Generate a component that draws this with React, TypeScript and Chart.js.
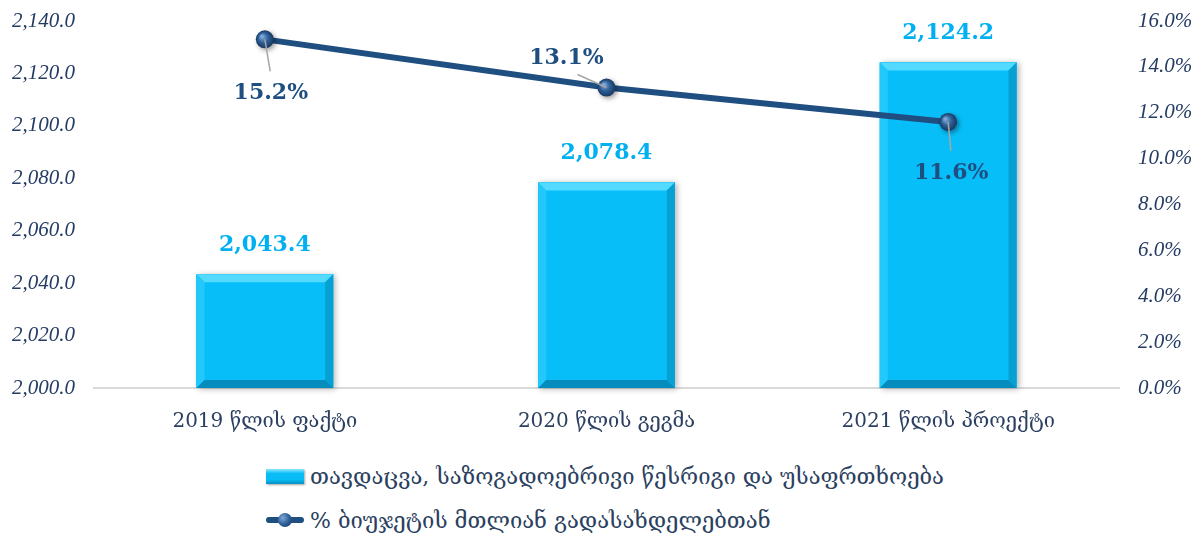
import React, { useEffect, useRef } from "react";
import { Chart, registerables } from "chart.js";

Chart.register(...registerables);

const categories = ["2019 წლის ფაქტი", "2020 წლის გეგმა", "2021 წლის პროექტი"];
const barValues = [2043.4, 2078.4, 2124.2];
const lineValues = [15.2, 13.1, 11.6];
const barLabel = "თავდაცვა, საზოგადოებრივი წესრიგი და უსაფრთხოება";
const lineLabel = "% ბიუჯეტის მთლიან გადასახდელებთან";
const leftTicks = { min: 2000, max: 2140, step: 20 };
const rightTicks = { min: 0, max: 16, step: 2 };

// label placement (style, not data)
const lineLabelOffsets = [
  { dx: 6, dy: 54 },
  { dx: -40, dy: -29 },
  { dx: 3, dy: 51 },
];

const BAR_COLOR = "#08BEF8";
const LINE_COLOR = "#1F4E80";
const TICK_COLOR = "#243B63";
const TEXT_COLOR = "#2B3F60";
const SERIF = "'DejaVu Serif', 'Liberation Serif', serif";
const ITALIC_SERIF = "'Liberation Serif', serif";

const fmtThousands = (v: number) =>
  v.toLocaleString("en-US", { minimumFractionDigits: 1, maximumFractionDigits: 1 });

const decorPlugin = {
  id: "decor",
  beforeDatasetDraw(chart: any, args: any) {
    if (args.index !== 0) return;
    const ctx = chart.ctx;
    const meta = chart.getDatasetMeta(0);
    const bottom = chart.chartArea.bottom;
    ctx.save();
    meta.data.forEach((el: any) => {
      const { x, y, base, width } = el.getProps(["x", "y", "base", "width"], true);
      const b = Math.min(base, bottom);
      ctx.shadowColor = "rgba(0,0,0,0.3)";
      ctx.shadowBlur = 6;
      ctx.shadowOffsetX = 2;
      ctx.shadowOffsetY = 1;
      ctx.fillStyle = BAR_COLOR;
      ctx.fillRect(x - width / 2, y, width, b - y);
    });
    ctx.restore();
  },
  afterDatasetDraw(chart: any, args: any) {
    const ctx = chart.ctx;
    if (args.index === 0) {
      const meta = chart.getDatasetMeta(0);
      const bottom = chart.chartArea.bottom;
      ctx.save();
      meta.data.forEach((el: any) => {
        const { x, y, base, width } = el.getProps(["x", "y", "base", "width"], true);
        const l = x - width / 2, r = x + width / 2, t = y, b = Math.min(base, bottom);
        const bv = 8;
        const poly = (pts: number[][], fill: any) => {
          ctx.beginPath();
          ctx.moveTo(pts[0][0], pts[0][1]);
          for (let i = 1; i < pts.length; i++) ctx.lineTo(pts[i][0], pts[i][1]);
          ctx.closePath();
          ctx.fillStyle = fill;
          ctx.fill();
        };
        ctx.fillStyle = BAR_COLOR;
        ctx.fillRect(l, t, r - l, b - t);
        poly([[l, t], [r, t], [r - bv, t + bv], [l + bv, t + bv]], "#55DAFF");
        poly([[l, t], [l + bv, t + bv], [l + bv, b - bv], [l, b]], "#22C8FA");
        poly([[r, t], [r, b], [r - bv, b - bv], [r - bv, t + bv]], "#07A0D2");
        poly([[l, b], [r, b], [r - bv, b - bv], [l + bv, b - bv]], "#068CBC");
      });
      ctx.restore();
    }
    if (args.index === 1) {
      const meta = chart.getDatasetMeta(1);
      ctx.save();
      meta.data.forEach((el: any) => {
        const { x, y } = el.getProps(["x", "y"], true);
        const rad = 9;
        ctx.shadowColor = "rgba(0,0,0,0.4)";
        ctx.shadowBlur = 5;
        ctx.shadowOffsetX = 2;
        ctx.shadowOffsetY = 2;
        const g = ctx.createRadialGradient(x - 3, y - 3, 1, x, y, rad);
        g.addColorStop(0, "#7FA6D6");
        g.addColorStop(0.5, "#2D5E96");
        g.addColorStop(1, "#17395F");
        ctx.beginPath();
        ctx.arc(x, y, rad, 0, Math.PI * 2);
        ctx.fillStyle = g;
        ctx.fill();
      });
      ctx.restore();
    }
  },
  afterDraw(chart: any) {
    const ctx = chart.ctx;
    ctx.save();
    const barMeta = chart.getDatasetMeta(0);
    ctx.font = `bold 22px ${SERIF}`;
    ctx.fillStyle = "#00B0F0";
    ctx.textAlign = "center";
    ctx.textBaseline = "bottom";
    barMeta.data.forEach((el: any, i: number) => {
      const { x, y } = el.getProps(["x", "y"], true);
      ctx.fillText(fmtThousands(barValues[i]), x, y - 18);
    });
    const lineMeta = chart.getDatasetMeta(1);
    ctx.textBaseline = "middle";
    lineMeta.data.forEach((el: any, i: number) => {
      const { x, y } = el.getProps(["x", "y"], true);
      const o = lineLabelOffsets[i];
      const lx = x + o.dx, ly = y + o.dy;
      ctx.strokeStyle = "#A6A6A6";
      ctx.lineWidth = 1.5;
      ctx.beginPath();
      ctx.moveTo(x, y);
      if (o.dy > 0) ctx.lineTo(x + o.dx * 0.9, ly - 22);
      else ctx.lineTo(x - 29, y - 13);
      ctx.stroke();
      ctx.font = `bold 22px ${SERIF}`;
      ctx.fillStyle = LINE_COLOR;
      ctx.fillText(lineValues[i].toFixed(1) + "%", lx, ly);
    });
    ctx.restore();
  },
};

export default function App() {
  const ref = useRef<HTMLCanvasElement | null>(null);
  useEffect(() => {
    if (!ref.current) return;
    const chart = new Chart(ref.current, {
      type: "bar",
      data: {
        labels: categories,
        datasets: [
          {
            type: "bar",
            label: barLabel,
            data: barValues,
            backgroundColor: BAR_COLOR,
            yAxisID: "y",
            order: 1,
            barPercentage: 0.4,
            categoryPercentage: 1,
          },
          {
            type: "line",
            label: lineLabel,
            data: lineValues,
            borderColor: LINE_COLOR,
            borderWidth: 6,
            pointRadius: 0,
            yAxisID: "y1",
            order: 0,
          } as any,
        ],
      },
      plugins: [decorPlugin],
      options: {
        animation: false,
        responsive: true,
        maintainAspectRatio: false,
        layout: { padding: { top: 0, left: 0, right: 0, bottom: 0 } },
        plugins: { legend: { display: false }, tooltip: { enabled: false } },
        scales: {
          x: {
            grid: { display: false, drawTicks: false },
            border: { display: true, color: "#D9D9D9", width: 2 },
            ticks: {
              padding: 22,
              color: TEXT_COLOR,
              font: { family: SERIF, size: 20 },
            },
            afterFit: (s: any) => {
              s.height = 62;
            },
          },
          y: {
            position: "left",
            min: leftTicks.min,
            max: leftTicks.max,
            grid: { display: false, drawTicks: false },
            border: { display: false },
            ticks: {
              stepSize: leftTicks.step,
              padding: 19,
              color: TICK_COLOR,
              font: { family: ITALIC_SERIF, size: 21, style: "italic" },
              callback: (v: any) => fmtThousands(Number(v)),
            },
            afterFit: (s: any) => {
              s.width = 94;
              s.paddingTop = 21;
              s.paddingBottom = 0;
            },
          },
          y1: {
            position: "right",
            min: rightTicks.min,
            max: rightTicks.max,
            grid: { display: false, drawTicks: false },
            border: { display: false },
            ticks: {
              stepSize: rightTicks.step,
              padding: 19,
              color: TICK_COLOR,
              font: { family: ITALIC_SERIF, size: 21, style: "italic" },
              callback: (v: any) => Number(v).toFixed(1) + "%",
            },
            afterFit: (s: any) => {
              s.width = 85;
              s.paddingTop = 21;
              s.paddingBottom = 0;
            },
          },
        },
      },
    });
    return () => chart.destroy();
  }, []);

  const legendText: React.CSSProperties = {
    fontFamily: SERIF,
    fontSize: 22,
    color: TEXT_COLOR,
    marginLeft: 6,
    whiteSpace: "nowrap",
  };

  return (
    <div style={{ position: "absolute", left: 0, top: 0, width: 1204, height: 536, background: "#fff" }}>
      <div style={{ position: "absolute", left: 0, top: 0, width: 1204, height: 450 }}>
        <canvas ref={ref} />
      </div>
      <div style={{ position: "absolute", left: 266, top: 462, display: "flex", alignItems: "center", height: 28 }}>
        <div
          style={{
            width: 38,
            height: 15,
            background: "linear-gradient(#8FE8FF 0%, #0BBDF5 30%, #08BCF6 70%, #0590C0 100%)",
            boxShadow: "1px 1px 2px rgba(0,0,0,0.35)",
          }}
        />
        <span style={legendText}>{barLabel}</span>
      </div>
      <div style={{ position: "absolute", left: 266, top: 506, display: "flex", alignItems: "center", height: 28 }}>
        <div style={{ position: "relative", width: 38, height: 18 }}>
          <div style={{ position: "absolute", left: 0, top: 6, width: 38, height: 6, background: LINE_COLOR, borderRadius: 3 }} />
          <div
            style={{
              position: "absolute",
              left: 12,
              top: 2,
              width: 14,
              height: 14,
              borderRadius: 7,
              background: "radial-gradient(circle at 35% 35%, #7FA6D6, #2D5E96 50%, #17395F)",
            }}
          />
        </div>
        <span style={legendText}>{lineLabel}</span>
      </div>
    </div>
  );
}
